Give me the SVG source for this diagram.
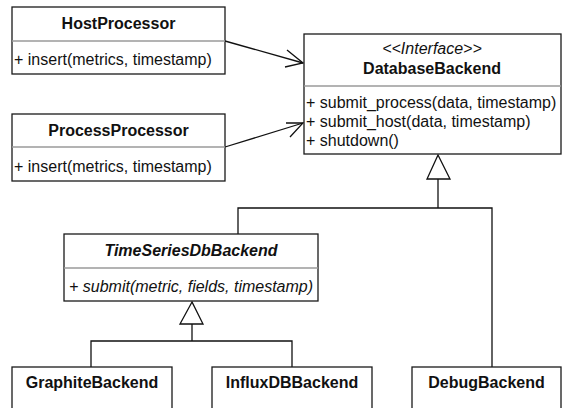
<svg xmlns="http://www.w3.org/2000/svg" width="562" height="408" viewBox="0 0 562 408">
<style>
.box{fill:#fff;stroke:#1a1a1a;stroke-width:1.3}
.div{stroke:#9a9a9a;stroke-width:1.3}
.t{font-family:"Liberation Sans",Arial,sans-serif;font-size:16px;fill:#111}
.b{font-weight:bold;text-anchor:middle}
.i{font-style:italic}
.c{text-anchor:middle}
.ln{fill:none;stroke:#111;stroke-width:1.3}
.tri{fill:#fff;stroke:#111;stroke-width:1.3}
</style>
<rect width="562" height="408" fill="#fff"/>
<g id="connectors">
<line class="ln" x1="225" y1="41" x2="303" y2="63"/>
<polyline class="ln" points="287,50 303,63 285,67"/>
<line class="ln" x1="225" y1="147" x2="303" y2="123"/>
<polyline class="ln" points="286,123 303,123 290,137"/>
<polyline class="ln" points="238,234 238,208 492,208 492,367"/>
<line class="ln" x1="438" y1="179" x2="438" y2="208"/>
<polygon class="tri" points="438,155 427,179 450,179"/>
<polyline class="ln" points="91,367 91,341 292,341 292,367"/>
<line class="ln" x1="192" y1="324" x2="192" y2="341"/>
<polygon class="tri" points="192,302 180,324 203,324"/>
</g>
<g id="HostProcessor">
<rect class="box" x="12" y="7" width="213" height="67"/>
<line class="div" x1="12" y1="41" x2="225" y2="41"/>
<text class="t b" x="118.5" y="29">HostProcessor</text>
<text class="t" x="14" y="65">+ insert(metrics, timestamp)</text>
</g>
<g id="ProcessProcessor">
<rect class="box" x="12" y="114" width="213" height="67"/>
<line class="div" x1="12" y1="147" x2="225" y2="147"/>
<text class="t b" x="118.5" y="136">ProcessProcessor</text>
<text class="t" x="14" y="172">+ insert(metrics, timestamp)</text>
</g>
<g id="DatabaseBackend">
<rect class="box" x="304" y="34" width="257" height="120"/>
<line class="div" x1="304" y1="86" x2="561" y2="86"/>
<text class="t i c" x="432" y="54">&lt;&lt;Interface&gt;&gt;</text>
<text class="t b" x="432" y="74">DatabaseBackend</text>
<text class="t" x="306" y="108">+ submit_process(data, timestamp)</text>
<text class="t" x="306" y="127">+ submit_host(data, timestamp)</text>
<text class="t" x="306" y="146">+ shutdown()</text>
</g>
<g id="TimeSeriesDbBackend">
<rect class="box" x="64" y="234" width="254" height="67"/>
<line class="div" x1="64" y1="268" x2="318" y2="268"/>
<text class="t b i" x="191" y="256">TimeSeriesDbBackend</text>
<text class="t i" x="69" y="292">+ submit(metric, fields, timestamp)</text>
</g>
<g id="GraphiteBackend">
<rect class="box" x="12" y="367" width="160" height="50"/>
<text class="t b" x="92" y="388">GraphiteBackend</text>
</g>
<g id="InfluxDBBackend">
<rect class="box" x="212" y="367" width="160" height="50"/>
<text class="t b" x="292" y="388">InfluxDBBackend</text>
</g>
<g id="DebugBackend">
<rect class="box" x="412" y="367" width="149" height="50"/>
<text class="t b" x="486.5" y="388">DebugBackend</text>
</g>
</svg>
